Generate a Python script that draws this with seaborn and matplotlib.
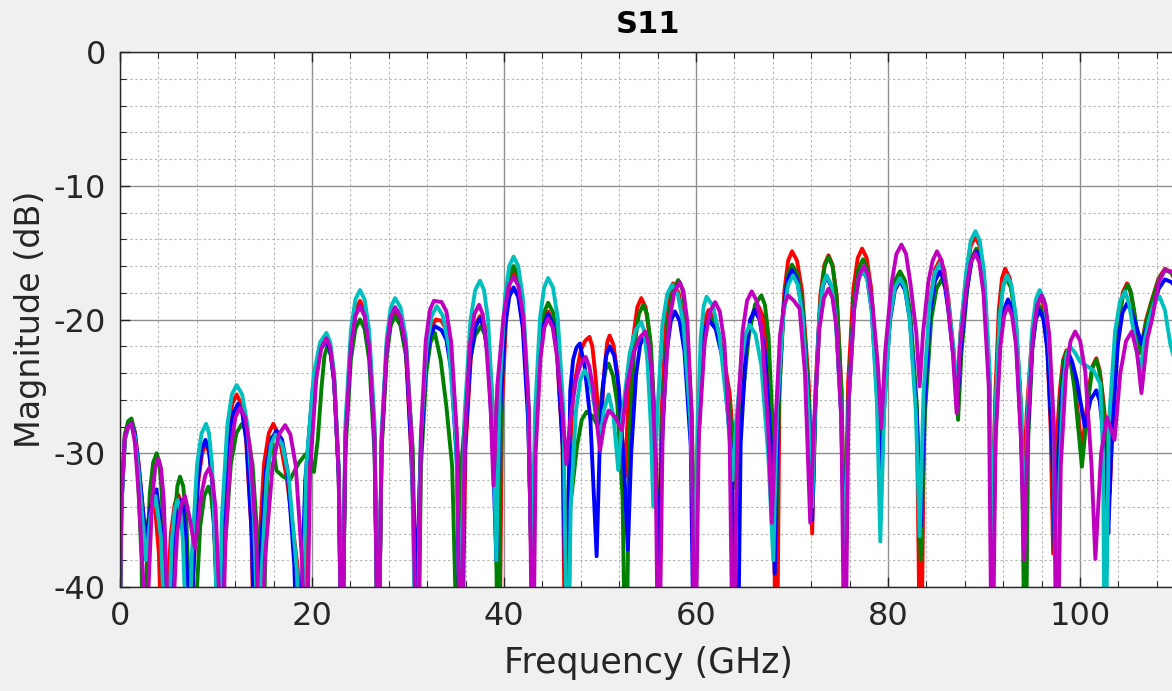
import matplotlib
matplotlib.use("Agg")
import matplotlib.pyplot as plt
from matplotlib.ticker import MultipleLocator
import seaborn as sns
import pandas as pd

plt.rcParams['font.family'] = ['DejaVu Sans']
plt.rcParams['axes.unicode_minus'] = False

title = "S11"
xlabel = "Frequency (GHz)"
ylabel = "Magnitude (dB)"
x_ticks = [0, 20, 40, 60, 80, 100]
y_ticks = [-40, -30, -20, -10, 0]

# (frequency GHz, magnitude dB)
red = [
    (0, -42), (0.15, -34), (0.5, -28.8), (0.85, -27.8), (1.2, -27.6), (1.55, -28.4), (1.9, -30.5), (2.6, -36.0),
    (3.1, -34.6), (3.65, -34.0), (4.05, -37.5), (4.5, -48),
    (4.8, -43), (5.3, -36), (5.7, -33.8), (6.07, -33.1), (6.4, -33.8), (6.7, -36), (7.05, -43), (7.3, -48),
    (7.63, -39.3), (8.12, -32.3), (8.55, -30.0), (8.95, -29.3), (9.3, -30.0), (9.62, -32.3), (10.03, -39.3), (10.3, -48),
    (10.67, -35.6), (11.22, -28.6), (11.7, -26.3), (12.15, -25.6), (12.6, -26.3), (13.1, -28.6), (13.68, -35.6), (14.06, -48),
    (14.44, -37.8), (15.0, -30.8), (15.5, -28.5), (15.97, -27.8), (16.6, -28.8), (17.4, -32), (18.5, -38.5), (19.1, -48),
    (19.58, -31.5), (20.3, -24.5), (20.9, -22.2), (21.5, -21.5), (21.9, -22.2), (22.3, -24.5), (22.78, -31.5), (23.1, -48),
    (23.48, -28.6), (24.05, -21.6), (24.52, -19.3), (25.0, -18.6), (25.48, -19.3), (25.95, -21.6), (26.52, -28.6), (26.9, -48),
    (27.25, -29.5), (27.78, -22.5), (28.2, -20.2), (28.65, -19.5), (29.2, -20.2), (29.78, -22.5), (30.3, -29.5), (30.9, -41),
    (31.3, -30), (31.9, -23), (32.4, -20.6), (32.9, -20.0), (33.5, -20.1), (34.0, -20.8), (34.55, -23.1), (35.2, -30), (35.6, -48),
    (35.98, -29.75), (36.55, -22.75), (37.0, -20.45), (37.5, -19.75), (38.0, -20.45), (38.5, -22.75), (39.1, -29.75), (39.5, -48),
    (39.8, -26.4), (40.25, -19.4), (40.62, -17.1), (41.0, -16.4), (41.48, -17.1), (41.95, -19.4), (42.52, -26.4), (42.9, -40),
    (43.24, -29.4), (43.75, -22.4), (44.18, -20.1), (44.6, -19.4), (45.05, -20.1), (45.5, -22.4), (46.1, -29.4), (46.4, -48),
    (46.7, -33), (47.2, -25.3), (48.0, -22.3), (48.45, -21.6), (48.9, -21.3), (49.2, -22.0), (49.5, -24), (50.0, -28.5),
    (50.5, -23.5), (50.75, -21.7), (51.0, -21.2), (51.4, -21.9), (51.8, -24.0), (52.6, -31.75),
    (53.0, -25.5), (53.45, -21.4), (53.88, -19.1), (54.3, -18.4), (54.75, -19.1), (55.2, -21.4), (55.75, -28.4), (56.1, -41),
    (56.4, -27.3), (56.85, -20.3), (57.22, -18.0), (57.6, -17.3), (58.18, -18.0), (58.75, -20.3), (59.45, -27.3), (59.9, -40),
    (60.2, -29.3), (60.6, -22.3), (60.95, -20.0), (61.3, -19.3), (62.05, -20.1), (62.8, -22.5), (63.5, -25.5), (63.9, -29.2),
    (64.75, -25.3), (65.6, -20.5), (66.05, -19.3), (66.5, -19.0), (67.0, -19.8), (67.45, -22), (68.0, -29), (68.4, -50),
    (68.7, -24.9), (69.2, -17.9), (69.6, -15.6), (70.0, -14.9), (70.52, -15.6), (71.05, -17.9), (71.75, -24.9), (72.1, -36),
    (72.45, -25.2), (72.95, -18.2), (73.38, -15.9), (73.8, -15.2), (74.22, -15.9), (74.65, -18.2), (75.15, -25.2), (75.5, -39),
    (75.85, -24.7), (76.4, -17.7), (76.85, -15.4), (77.3, -14.7), (77.78, -15.4), (78.25, -17.7), (78.85, -24), (79.2, -30.5),
    (79.6, -25.5), (80.2, -19.8), (80.72, -17.5), (81.25, -16.8), (81.78, -17.5), (82.3, -19.8), (83.0, -26.8), (83.4, -50),
    (83.8, -25.5), (84.4, -18.5), (84.9, -16.25), (85.4, -15.55), (85.85, -16.25), (86.3, -18.5), (86.85, -22.5), (87.2, -26),
    (87.55, -21), (88.15, -16.8), (88.62, -14.5), (89.1, -13.8), (89.55, -14.5), (90.0, -16.8), (90.55, -23.8), (90.9, -39),
    (91.15, -26.2), (91.55, -19.2), (91.88, -16.9), (92.2, -16.2), (92.68, -16.9), (93.15, -19.2), (93.75, -25.5), (94.1, -33),
    (94.45, -27), (95.0, -21.3), (95.45, -19.0), (95.9, -18.3), (96.22, -19.0), (96.55, -21.3), (96.95, -28.3), (97.2, -37.5),
    (97.5, -30), (97.9, -25.3), (98.25, -23.0), (98.6, -22.3), (99.0, -23.0), (99.4, -24.5), (100.2, -29.8),
    (100.95, -25), (101.3, -23.5), (101.7, -22.9), (102.05, -23.8), (102.4, -25.9), (102.85, -29), (103.1, -33),
    (103.45, -27.3), (104.0, -20.3), (104.45, -18.0), (104.9, -17.3), (105.25, -17.9), (105.6, -19.3), (106.25, -22.5),
    (106.9, -20.0), (107.5, -18.5), (108.2, -16.9), (108.85, -16.2), (109.5, -16.5), (110, -17.2),
]

green = [
    (0, -42), (0.15, -33.5), (0.5, -28.6), (0.85, -27.6), (1.2, -27.4), (1.55, -28.5), (1.85, -31.5), (2.25, -38), (2.4, -48),
    (2.7, -40), (3.1, -33), (3.45, -30.7), (3.82, -30.0), (4.1, -30.7), (4.35, -33), (4.75, -40), (4.9, -48),
    (5.1, -48), (5.35, -41.75), (5.7, -34.75), (5.98, -32.45), (6.25, -31.75), (6.58, -32.45), (6.9, -34.75), (7.25, -41.75), (7.5, -48),
    (7.85, -42.5), (8.35, -35.5), (8.78, -33.2), (9.2, -32.5), (9.5, -33.2), (9.8, -35.5), (10.15, -42.5), (10.4, -48),
    (10.85, -37.8), (11.55, -30.8), (12.12, -28.5), (12.7, -27.8), (13.25, -28.5), (13.8, -30.8), (14.45, -37.8), (14.9, -48),
    (15.1, -38.8), (15.35, -31.8), (15.8, -28.8), (16.3, -31.3), (17.0, -31.75), (17.7, -32.0), (18.6, -30.75),
    (19.3, -30.1), (19.8, -30.3), (20.2, -31.4), (20.6, -29.0),
    (21.0, -25), (21.3, -22.7), (21.6, -22.0), (21.98, -22.7), (22.35, -25), (22.8, -32), (23.1, -48),
    (23.48, -30), (24.05, -23), (24.52, -20.7), (25.0, -20.0), (25.48, -20.7), (25.95, -23), (26.52, -30), (26.9, -48),
    (27.25, -29.75), (27.78, -22.75), (28.2, -20.45), (28.65, -19.75), (29.22, -20.45), (29.8, -22.75), (30.5, -29.75), (31.0, -50),
    (31.35, -31), (31.9, -24), (32.35, -21.7), (32.8, -21.0), (33.4, -23), (34.0, -26.5), (34.6, -31), (35.1, -45),
    (35.6, -30.5), (36.35, -23.5), (36.98, -21.2), (37.6, -20.5), (38.05, -21.2), (38.5, -23.5), (39.05, -30.5), (39.4, -48),
    (39.7, -26), (40.2, -19), (40.6, -16.7), (41.0, -16.0), (41.48, -16.7), (41.95, -19), (42.5, -26), (42.9, -40),
    (43.24, -28.75), (43.75, -21.75), (44.18, -19.45), (44.6, -18.75), (45.1, -19.45), (45.6, -21.75), (46.2, -28.75), (46.6, -50),
    (46.9, -34), (47.6, -29.5), (48.1, -27.5), (48.6, -26.9), (49.2, -27.2), (49.8, -28.0),
    (50.3, -25), (50.6, -23.7), (50.9, -23.3), (51.35, -24.2), (51.8, -26.3), (52.35, -33.3), (52.7, -50),
    (53.05, -28.9), (53.6, -21.9), (54.05, -19.6), (54.5, -18.9), (54.9, -19.6), (55.3, -21.9), (55.8, -28.9), (56.1, -40),
    (56.5, -27), (57.1, -20), (57.62, -17.75), (58.15, -17.05), (58.58, -17.75), (59.0, -20), (59.55, -27), (59.9, -39),
    (60.2, -29.8), (60.7, -22.8), (61.1, -20.5), (61.5, -19.8), (62.18, -20.5), (62.85, -22.8), (63.7, -28), (64.2, -32.7),
    (64.7, -27), (65.5, -21.2), (66.15, -18.9), (66.8, -18.2), (67.18, -18.9), (67.55, -21.2), (68.0, -28.2), (68.3, -38),
    (68.65, -25.9), (69.15, -18.9), (69.58, -16.6), (70.0, -15.9), (70.55, -16.6), (71.1, -18.9), (71.75, -25.9), (72.2, -33),
    (72.5, -25.3), (73.0, -18.3), (73.4, -16.0), (73.8, -15.3), (74.22, -16.0), (74.65, -18.3), (75.15, -25.3), (75.5, -38),
    (75.9, -25.5), (76.45, -18.5), (76.92, -16.2), (77.4, -15.5), (77.85, -16.2), (78.3, -18.5), (78.85, -24.5), (79.2, -31),
    (79.6, -25.5), (80.2, -19.4), (80.72, -17.1), (81.25, -16.4), (81.78, -17.1), (82.3, -19.4), (83.0, -26.4), (83.4, -38),
    (83.85, -27), (84.5, -20), (85.05, -17.7), (85.6, -17.0), (86.02, -17.7), (86.45, -20), (87.0, -24), (87.3, -27.5),
    (87.65, -22.5), (88.25, -17.7), (88.72, -15.4), (89.2, -14.7), (89.62, -15.4), (90.05, -17.7), (90.55, -24.7), (90.9, -39),
    (91.2, -26.9), (91.6, -19.9), (91.95, -17.6), (92.3, -16.9), (92.8, -17.6), (93.3, -19.9), (93.9, -26.9), (94.3, -50),
    (94.6, -29), (95.05, -22), (95.42, -19.7), (95.8, -19.0), (96.2, -19.7), (96.6, -22), (97.1, -29), (97.4, -38),
    (97.65, -31), (98.0, -25.4), (98.3, -23.1), (98.6, -22.4), (99.0, -23.1), (99.4, -25.0), (100.2, -31.0),
    (100.95, -25.5), (101.3, -23.6), (101.7, -23.0), (102.0, -23.8), (102.3, -25.5), (102.7, -29.5), (102.95, -33.2),
    (103.35, -27.4), (104.0, -20.4), (104.5, -18.1), (105.0, -17.4), (105.32, -18.0), (105.65, -19.4), (106.25, -22.5),
    (106.9, -20.2), (107.5, -18.6), (108.2, -17.0), (108.85, -16.3), (109.5, -16.5), (110, -17.0),
]

blue = [
    (0, -42), (0.15, -34), (0.5, -29), (0.85, -28.0), (1.2, -27.8), (1.55, -28.6), (1.95, -31), (2.7, -36.5),
    (3.2, -34), (3.8, -32.7), (4.35, -36), (4.75, -42), (4.9, -48),
    (5.2, -43), (5.65, -36.5), (6.02, -34.2), (6.4, -33.5), (6.62, -34.2), (6.85, -36.5), (7.15, -43), (7.3, -48),
    (7.62, -39), (8.1, -32), (8.5, -29.7), (8.9, -29.0), (9.25, -29.7), (9.6, -32), (10.02, -39), (10.3, -48),
    (10.7, -36.3), (11.3, -29.3), (11.8, -27.0), (12.3, -26.3), (12.75, -27.0), (13.2, -29.3), (13.74, -36.3), (14.1, -48),
    (14.55, -38.3), (15.2, -31.3), (15.75, -29.0), (16.3, -28.3), (16.88, -29.0), (17.45, -31.3), (18.15, -38.3), (18.6, -48),
    (19.3, -32), (20.1, -25), (20.8, -22.3), (21.5, -21.6), (21.9, -22.3), (22.3, -24.6), (22.78, -31.6), (23.1, -48),
    (23.48, -29), (24.05, -22), (24.52, -19.7), (25.0, -19.0), (25.48, -19.7), (25.95, -22), (26.52, -29), (26.9, -48),
    (27.25, -29.1), (27.78, -22.1), (28.2, -19.8), (28.65, -19.1), (29.22, -19.8), (29.78, -22.1), (30.3, -29.1), (30.9, -40),
    (31.3, -30.5), (31.85, -23.5), (32.32, -21.2), (32.8, -20.5), (33.5, -20.8), (34.0, -21.5), (34.5, -23.8), (35.1, -30.8), (35.5, -50),
    (35.9, -29.9), (36.5, -22.9), (37.0, -20.6), (37.5, -19.9), (37.92, -20.6), (38.35, -22.9), (38.85, -29.9), (39.2, -38),
    (39.55, -27.6), (40.1, -20.6), (40.55, -18.3), (41.0, -17.6), (41.48, -18.3), (41.95, -20.6), (42.52, -27.6), (42.9, -39),
    (43.24, -29.6), (43.75, -22.6), (44.18, -20.3), (44.6, -19.6), (45.08, -20.3), (45.55, -22.6), (46.12, -29.6), (46.5, -45),
    (46.9, -25.3), (47.2, -23.0), (47.55, -22.1), (47.9, -21.8), (48.4, -23.5), (49.0, -27.5), (49.65, -37.7),
    (49.95, -30), (50.3, -25), (50.65, -22.7), (51.0, -22.0), (51.48, -22.7), (51.95, -25), (52.5, -31), (52.9, -37.2),
    (53.25, -30), (53.75, -24.2), (54.18, -21.9), (54.6, -21.2), (54.98, -21.9), (55.35, -24.2), (55.8, -31), (56.1, -39),
    (56.45, -29.4), (56.95, -22.4), (57.38, -20.1), (57.8, -19.4), (58.3, -20.1), (58.8, -22.4), (59.45, -29.4), (59.85, -50),
    (60.15, -30), (60.6, -23), (60.95, -20.7), (61.3, -20.0), (62.05, -20.7), (62.8, -23), (63.7, -30), (64.3, -50),
    (64.65, -29.3), (65.2, -22.3), (65.65, -20.0), (66.1, -19.3), (66.62, -20.0), (67.15, -22.3), (67.8, -29.3), (68.2, -39),
    (68.55, -26.3), (69.1, -19.3), (69.55, -17.0), (70.0, -16.3), (70.52, -17.0), (71.05, -19.3), (71.7, -26.3), (72.1, -35),
    (72.4, -26.8), (72.85, -19.8), (73.22, -17.5), (73.6, -16.8), (74.08, -17.5), (74.55, -19.8), (75.1, -26.8), (75.5, -38),
    (75.9, -26.3), (76.45, -19.3), (76.92, -17.0), (77.4, -16.3), (77.85, -17.0), (78.3, -19.3), (78.85, -25.5), (79.2, -32),
    (79.6, -26.5), (80.2, -20.1), (80.72, -17.8), (81.25, -17.1), (81.78, -17.8), (82.3, -20.1), (83.0, -27.1), (83.4, -35.5),
    (83.8, -26.4), (84.4, -19.4), (84.9, -17.1), (85.4, -16.4), (85.85, -17.1), (86.3, -19.4), (86.85, -23), (87.2, -26.5),
    (87.6, -22), (88.2, -17.9), (88.7, -15.6), (89.2, -14.9), (89.62, -15.6), (90.05, -17.9), (90.55, -24.9), (90.9, -40),
    (91.2, -28.5), (91.7, -21.5), (92.1, -19.2), (92.5, -18.5), (92.92, -19.2), (93.35, -21.5), (93.85, -28.5), (94.2, -36),
    (94.5, -29.3), (95.0, -22.3), (95.4, -20.0), (95.8, -19.3), (96.2, -20.0), (96.6, -22.3), (97.1, -29.3), (97.4, -38),
    (97.7, -31), (98.1, -25.5), (98.45, -23.2), (98.8, -22.5), (99.2, -23.2), (99.65, -24.5), (100.5, -28.0),
    (101.1, -26), (101.7, -25.3), (102.05, -26.1), (102.35, -28), (102.75, -32), (102.95, -36),
    (103.3, -28.8), (103.95, -21.8), (104.42, -19.5), (104.9, -18.8), (105.28, -19.3), (105.65, -20.0), (106.4, -21.8),
    (107.0, -20.5), (107.6, -19.2), (108.2, -17.7), (108.85, -17.0), (109.5, -17.2), (110, -17.6),
]

cyan = [
    (0, -42), (0.15, -34), (0.5, -29), (0.85, -28.1), (1.2, -27.9), (1.55, -28.8), (1.95, -31.5), (2.7, -38),
    (3.2, -34.5), (3.7, -33.2), (4.25, -36.2), (4.65, -43), (4.8, -48),
    (5.05, -43.5), (5.4, -36.5), (5.7, -34.2), (6.0, -33.5), (6.28, -34.2), (6.55, -36.5), (6.88, -43.5), (7.1, -48),
    (7.47, -37.8), (8.03, -30.8), (8.5, -28.5), (8.96, -27.8), (9.27, -28.5), (9.58, -30.8), (9.95, -37.8), (10.2, -48),
    (10.6, -34.9), (11.18, -27.9), (11.65, -25.6), (12.15, -24.9), (12.72, -25.6), (13.28, -27.9), (13.95, -34.9), (14.4, -45),
    (14.76, -38.6), (15.3, -31.6), (15.75, -29.3), (16.2, -28.6), (16.88, -29.3), (17.55, -31.6), (18.4, -38.6), (18.9, -48),
    (19.4, -31), (20.2, -24), (20.85, -21.7), (21.5, -21.0), (21.9, -21.7), (22.3, -24), (22.78, -31), (23.1, -48),
    (23.48, -27.8), (24.05, -20.8), (24.52, -18.5), (25.0, -17.8), (25.48, -18.5), (25.95, -20.8), (26.52, -27.8), (26.9, -48),
    (27.25, -28.4), (27.78, -21.4), (28.2, -19.1), (28.65, -18.4), (29.22, -19.1), (29.78, -21.4), (30.35, -28.4), (30.9, -50),
    (31.32, -29), (31.95, -22), (32.48, -19.7), (33.0, -19.0), (33.62, -19.7), (34.25, -22), (35.0, -29), (35.5, -42),
    (35.9, -27.1), (36.5, -20.1), (37.0, -17.8), (37.5, -17.1), (37.92, -17.8), (38.35, -20.1), (38.85, -27.1), (39.2, -38),
    (39.55, -25.3), (40.1, -18.3), (40.55, -16.0), (41.0, -15.3), (41.48, -16.0), (41.95, -18.3), (42.52, -25.3), (42.9, -40),
    (43.24, -26.9), (43.75, -19.9), (44.18, -17.6), (44.6, -16.9), (45.1, -17.6), (45.6, -19.9), (46.2, -26.9), (46.6, -50),
    (46.95, -33.8), (47.5, -26.8), (47.95, -24.5), (48.4, -23.8), (48.8, -24.3), (49.2, -25.5), (50.0, -29),
    (50.4, -26.8), (50.9, -25.6), (51.4, -27.2), (51.9, -31.25),
    (52.35, -27), (53.1, -22.5), (53.7, -20.8), (54.3, -20.2), (54.62, -20.9), (54.95, -23.2), (55.3, -28), (55.55, -34),
    (55.95, -27.4), (56.5, -20.4), (57.0, -18.1), (57.5, -17.4), (58.1, -18.1), (58.7, -20.4), (59.4, -27.4), (59.9, -39),
    (60.15, -28.3), (60.5, -21.3), (60.8, -19.0), (61.1, -18.3), (61.78, -19.0), (62.45, -21.3), (63.3, -27), (63.8, -32),
    (64.15, -28), (64.7, -23.4), (65.15, -21.1), (65.6, -20.4), (66.2, -21.1), (66.8, -23.4), (67.55, -30.4), (68.05, -38),
    (68.45, -26.7), (69.1, -19.7), (69.6, -17.4), (70.1, -16.7), (70.6, -17.4), (71.1, -19.7), (71.7, -26.7), (72.1, -34),
    (72.4, -26.7), (72.85, -19.7), (73.22, -17.4), (73.6, -16.7), (74.08, -17.4), (74.55, -19.7), (75.1, -26.7), (75.5, -39),
    (75.9, -26.3), (76.45, -19.3), (76.92, -17.0), (77.4, -16.3), (77.85, -17.0), (78.3, -19.3), (78.85, -26.3), (79.2, -36.6),
    (79.6, -26.9), (80.2, -19.9), (80.72, -17.6), (81.25, -16.9), (81.75, -17.6), (82.25, -19.9), (82.9, -26.9), (83.3, -36.2),
    (83.7, -25.5), (84.35, -18.8), (84.88, -16.5), (85.4, -15.8), (85.85, -16.5), (86.3, -18.8), (86.85, -22.3), (87.2, -25.5),
    (87.55, -21), (88.15, -16.4), (88.62, -14.1), (89.1, -13.4), (89.55, -14.1), (90.0, -16.4), (90.55, -23.4), (90.9, -38),
    (91.2, -26.7), (91.65, -19.7), (92.02, -17.4), (92.4, -16.7), (92.85, -17.4), (93.3, -19.7), (93.85, -26.7), (94.2, -37),
    (94.5, -27.8), (95.0, -20.8), (95.4, -18.5), (95.8, -17.8), (96.25, -18.5), (96.7, -20.8), (97.25, -27.8), (97.6, -50),
    (97.85, -32), (98.25, -25), (98.6, -22.7), (98.95, -22.0), (99.5, -22.5), (100.0, -23.15), (101.4, -23.8),
    (102.1, -24.8), (102.4, -30), (102.6, -50),
    (103.0, -27.9), (103.65, -20.9), (104.18, -18.6), (104.7, -17.9), (105.1, -18.8), (105.5, -20.5), (106.25, -24.0),
    (106.75, -21.5), (107.2, -20.0), (107.75, -18.7), (108.3, -18.3), (108.85, -19.3), (109.4, -21.8), (110, -23.5),
]

magenta = [
    (0, -42), (0.15, -33.5), (0.5, -28.8), (0.85, -28.0), (1.2, -27.8), (1.55, -29.2), (1.95, -33), (2.45, -40), (2.7, -48),
    (2.95, -40.4), (3.35, -33.4), (3.67, -31.1), (3.99, -30.4), (4.27, -31.1), (4.55, -33.4), (4.9, -40.4), (5.1, -48),
    (5.45, -43), (5.95, -36), (6.36, -33.9), (6.77, -33.2), (7.3, -35), (7.8, -37.1),
    (8.5, -33), (8.9, -31.6), (9.3, -31.1), (9.62, -31.9), (9.95, -34.1), (10.35, -41), (10.6, -48),
    (10.98, -36.6), (11.55, -29.6), (12.02, -27.3), (12.5, -26.6), (13.02, -27.3), (13.55, -29.6), (14.2, -36.6), (14.6, -48),
    (15.1, -37.9), (15.9, -30.9), (16.55, -28.6), (17.2, -27.9), (17.75, -28.6), (18.3, -30.9), (18.95, -37.9), (19.4, -48),
    (19.8, -31.4), (20.45, -24.4), (20.98, -22.1), (21.5, -21.4), (21.9, -22.1), (22.3, -24.4), (22.78, -31.4), (23.1, -48),
    (23.48, -29), (24.05, -22), (24.52, -19.7), (25.0, -19.0), (25.48, -19.7), (25.95, -22), (26.52, -29), (26.9, -48),
    (27.25, -29.1), (27.78, -22.1), (28.2, -19.8), (28.65, -19.1), (29.22, -19.8), (29.8, -22.1), (30.4, -29.1), (31.0, -50),
    (31.35, -28.6), (31.85, -21.6), (32.28, -19.3), (32.7, -18.6), (33.5, -18.7), (34.0, -19.4), (34.5, -21.7), (35.1, -28.7), (35.5, -50),
    (35.9, -28.9), (36.45, -21.9), (36.92, -19.6), (37.4, -18.9), (37.78, -19.6), (38.15, -21.9), (38.6, -26.5), (38.9, -32.4),
    (39.3, -25), (39.95, -19.8), (40.48, -17.5), (41.0, -16.8), (41.5, -17.5), (42.0, -19.8), (42.6, -26.8), (43.0, -50),
    (43.3, -29.9), (43.8, -22.9), (44.2, -20.6), (44.6, -19.9), (45.08, -20.6), (45.55, -22.9), (46.1, -27), (46.5, -30.8),
    (46.9, -27.5), (47.5, -24.5), (48.0, -23.3), (48.5, -22.8), (48.88, -23.5), (49.25, -25), (50.0, -29.8),
    (50.45, -27.8), (50.9, -26.8), (51.6, -27.3), (52.3, -28.3),
    (52.8, -25), (53.5, -22.5), (54.1, -21.4), (54.7, -20.9), (55.05, -21.8), (55.4, -23.9), (55.8, -30.9), (56.1, -50),
    (56.55, -27.2), (57.2, -20.2), (57.75, -17.9), (58.3, -17.2), (58.7, -17.9), (59.1, -20.2), (59.55, -27.2), (59.85, -50),
    (60.3, -28.7), (60.9, -21.7), (61.45, -19.4), (62.0, -18.7), (62.48, -19.4), (62.95, -21.7), (63.5, -28.7), (63.9, -50),
    (64.3, -27.9), (64.85, -20.9), (65.32, -18.6), (65.8, -17.9), (66.32, -18.6), (66.85, -20.9), (67.5, -27.9), (67.9, -35.2),
    (68.25, -28.2), (68.75, -21.2), (69.18, -18.9), (69.6, -18.2), (70.2, -18.6), (70.8, -19.2), (71.35, -24), (71.9, -35.2),
    (72.3, -27.7), (72.85, -20.7), (73.32, -18.4), (73.8, -17.7), (74.22, -18.4), (74.65, -20.7), (75.15, -27.7), (75.5, -50),
    (75.9, -26), (76.5, -19), (77.0, -16.7), (77.5, -16.0), (77.95, -16.7), (78.4, -19), (78.95, -23.5), (79.3, -28.1),
    (79.7, -22.5), (80.35, -17.4), (80.88, -15.1), (81.4, -14.4), (81.88, -15.1), (82.35, -17.4), (82.95, -21), (83.3, -25.0),
    (83.65, -21), (84.2, -17.2), (84.65, -15.6), (85.1, -14.9), (85.6, -15.6), (86.1, -17.9), (86.75, -22.5), (87.15, -27.0),
    (87.5, -22), (88.1, -18), (88.6, -15.75), (89.1, -15.05), (89.52, -15.75), (89.95, -18.05), (90.5, -25.05), (90.85, -50),
    (91.2, -29), (91.7, -22), (92.1, -19.7), (92.5, -19.0), (92.92, -19.7), (93.35, -22), (93.85, -29), (94.2, -38),
    (94.55, -28.2), (95.1, -21.2), (95.55, -18.9), (96.0, -18.2), (96.4, -18.9), (96.8, -21.2), (97.3, -28.2), (97.6, -50),
    (98.0, -30.9), (98.55, -23.9), (99.02, -21.6), (99.5, -20.9), (100.02, -21.6), (100.55, -23.9), (101.2, -30.9), (101.6, -37.9),
    (102.2, -30), (102.8, -27.3), (103.6, -29.0),
    (104.2, -24), (104.8, -21.6), (105.4, -20.9), (105.95, -22.5), (106.4, -25.5),
    (107.0, -21.5), (107.5, -20), (108.2, -17.2), (108.85, -16.3), (109.5, -16.4), (110, -16.8),
]

series_names = ["red", "green", "blue", "cyan", "magenta"]
series_data = [red, green, blue, cyan, magenta]
colors = {"red": "#ff0000", "green": "#008000", "blue": "#0000ff",
          "cyan": "#00bfbf", "magenta": "#bf00bf"}

rows = []
for name, pts in zip(series_names, series_data):
    for f, d in pts:
        rows.append((name, f, d))
df = pd.DataFrame(rows, columns=["series", "freq", "mag"])

fig = plt.figure(figsize=(11.72, 6.91), dpi=100, facecolor="#f0f0f0")
ax = fig.add_axes([120 / 1172, 104 / 691, 1056 / 1172, 535 / 691])
ax.set_facecolor("white")

sns.lineplot(data=df, x="freq", y="mag", hue="series", hue_order=series_names,
             palette=colors, estimator=None, sort=True, linewidth=2.8,
             legend=False, ax=ax)

ax.set_xlim(0, 110)
ax.set_ylim(-40, 0)
ax.set_xticks(x_ticks)
ax.set_yticks(y_ticks)
ax.xaxis.set_minor_locator(MultipleLocator(4))
ax.yaxis.set_minor_locator(MultipleLocator(2))
ax.set_axisbelow(True)
ax.grid(which="major", color="#8f8f8f", linewidth=1.0)
ax.grid(which="minor", color="#b8b8b8", linestyle=(0, (2.2, 2.2)), linewidth=0.8)

for s in ax.spines.values():
    s.set_color("#262626")
    s.set_linewidth(1.0)

ax.tick_params(which="both", direction="in", top=True, colors="#262626",
               labelcolor="#262626")
ax.tick_params(which="major", length=7, width=1.0, labelsize=23)
ax.tick_params(which="minor", length=4, width=0.8)
ax.tick_params(axis="x", pad=10)
ax.tick_params(axis="y", pad=10)

ax.set_title(title, fontsize=22, fontweight="bold", color="black", pad=14)
ax.set_xlabel(xlabel, fontsize=25, color="#262626")
ax.set_ylabel(ylabel, fontsize=24, color="#262626")
ax.xaxis.set_label_coords(0.5, -(646 - 587) / 535)
ax.yaxis.set_label_coords((47 - 120) / 1056, 0.5)

fig.savefig("out.png", dpi=100, facecolor=fig.get_facecolor())
